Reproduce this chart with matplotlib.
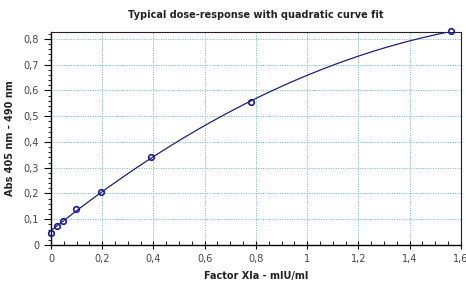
import numpy as np
import matplotlib
matplotlib.use("Agg")
import matplotlib.pyplot as plt
from matplotlib.ticker import MultipleLocator, FuncFormatter

# dilution series and measured absorbance
conc = [0.0, 0.0244, 0.0488, 0.0977, 0.1953, 0.3906, 0.7813, 1.5625]
absorb = [0.048, 0.073, 0.095, 0.140, 0.205, 0.340, 0.555, 0.830]

title = "Typical dose-response with quadratic curve fit"
xlabel = "Factor XIa - mIU/ml"
ylabel = "Abs 405 nm - 490 nm"

# quadratic fit
coef = np.polyfit(conc, absorb, 2)
xs = np.linspace(0, 1.6, 200)
ys = np.polyval(coef, xs)

fig = plt.figure(figsize=(4.66, 2.83), dpi=100)
ax = fig.add_axes([0.1094, 0.1343, 0.8796, 0.7527])

ax.plot(xs, ys, color="#1f1f7a", lw=0.9, zorder=3)
ax.plot(conc, absorb, "o", mfc="none", mec="#1a1a9a", mew=1.2, ms=4, zorder=4, clip_on=False)

ax.set_xlim(0, 1.6)
ax.set_ylim(0, 0.827)

def comma(v, pos):
    s = f"{v:.1f}".rstrip("0").rstrip(".")
    return s.replace(".", ",")

ax.xaxis.set_major_locator(MultipleLocator(0.2))
ax.xaxis.set_minor_locator(MultipleLocator(0.05))
ax.yaxis.set_major_locator(MultipleLocator(0.1))
ax.yaxis.set_minor_locator(MultipleLocator(0.02))
ax.xaxis.set_major_formatter(FuncFormatter(comma))
ax.yaxis.set_major_formatter(FuncFormatter(comma))

ax.tick_params(axis="both", which="major", labelsize=7, labelcolor="#444444", length=4, width=0.8)
ax.tick_params(axis="x", which="major", direction="inout", length=6)
ax.tick_params(axis="x", which="minor", direction="in", length=3)
ax.tick_params(axis="y", which="minor", direction="out", length=2)
ax.tick_params(axis="y", which="major", direction="out", length=5)

ax.grid(True, which="major", color="#6fb7bf", linestyle=(0, (1, 1.5)), linewidth=0.7)
ax.set_axisbelow(True)

for side in ["left", "bottom"]:
    ax.spines[side].set_color("black")
    ax.spines[side].set_linewidth(1.0)
for side in ["top", "right"]:
    ax.spines[side].set_color("#222222")
    ax.spines[side].set_linewidth(0.8)

ax.set_title(title, fontsize=7, fontweight="bold", color="#222222", pad=10)
ax.set_xlabel(xlabel, fontsize=7, fontweight="bold", color="#222222", labelpad=5)
ax.set_ylabel(ylabel, fontsize=7, fontweight="bold", color="#222222", labelpad=6)

fig.savefig("out.png", dpi=100)
